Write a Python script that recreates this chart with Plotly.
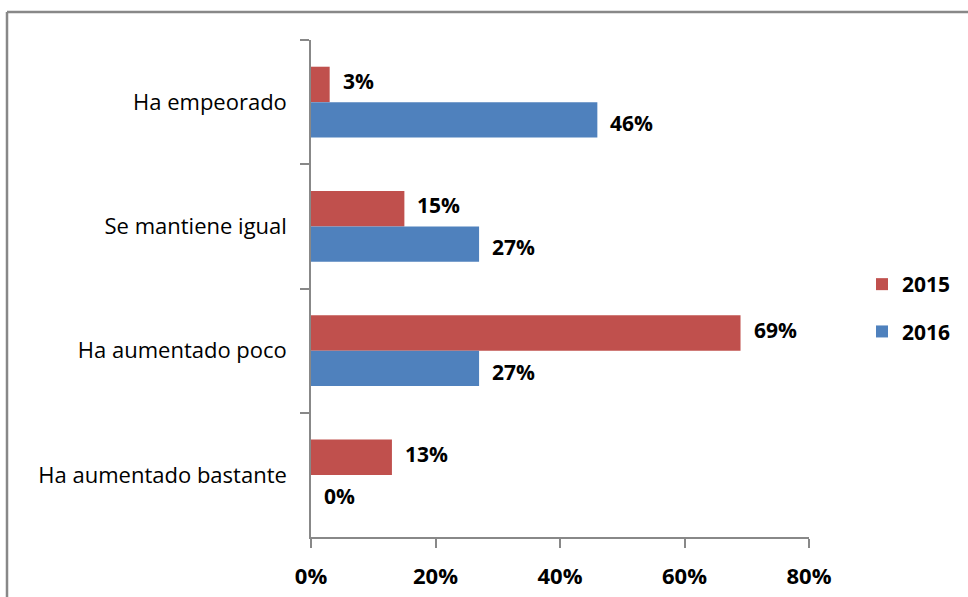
import plotly.graph_objects as go

categories = ["Ha empeorado", "Se mantiene igual", "Ha aumentado poco", "Ha aumentado bastante"]
values_2015 = [3, 15, 69, 13]
values_2016 = [46, 27, 27, 0]
series_names = ["2015", "2016"]
x_ticks = [0, 20, 40, 60, 80]
x_tick_labels = ["0%", "20%", "40%", "60%", "80%"]

RED = "#C0504D"
BLUE = "#4F81BD"
W, H = 968, 597
ML, MR, MT, MB = 311, 159, 40, 60
FONT = "Open Sans"

fig = go.Figure()
fig.add_trace(go.Bar(y=categories, x=values_2015, name=series_names[0], orientation="h",
                     legendgroup="a", marker=dict(color=RED, line=dict(width=0))))
fig.add_trace(go.Bar(y=categories, x=values_2016, name=series_names[1], orientation="h",
                     legendgroup="b", marker=dict(color=BLUE, line=dict(width=0))))

annotations = []
for vals, shift in ((values_2015, 21), (values_2016, -21)):
    for cat, v in zip(categories, vals):
        annotations.append(dict(x=v, y=cat, xref="x", yref="y", text=f"{v}%",
                                showarrow=False, xanchor="left", yanchor="middle",
                                xshift=11, yshift=shift,
                                font=dict(family=FONT, size=21, color="black", weight="bold")))

pw = W - ML - MR
ph = H - MT - MB
bx = (7 - ML) / pw
by = 1 + (MT - 12) / ph
fig.add_shape(type="line", xref="paper", yref="paper", x0=bx, x1=(W + 5 - ML) / pw, y0=by, y1=by,
              line=dict(color="#888888", width=2.5))
fig.add_shape(type="line", xref="paper", yref="paper", x0=bx, x1=bx, y0=by, y1=-(MB + 5) / ph,
              line=dict(color="#888888", width=2.5))

fig.update_layout(
    width=W, height=H,
    margin=dict(l=ML, r=MR, t=MT, b=MB, pad=0, autoexpand=False),
    paper_bgcolor="white", plot_bgcolor="white",
    barmode="group", bargap=0.43, bargroupgap=0,
    showlegend=True,
    legend=dict(x=(862 - ML) / pw, y=1 - (264 - MT) / ph, xanchor="left", yanchor="top",
                traceorder="grouped", font=dict(family=FONT, size=21, color="black", weight="bold"),
                tracegroupgap=17, itemwidth=30, bgcolor="rgba(0,0,0,0)"),
    annotations=annotations,
    xaxis=dict(range=[0, 80], tickvals=x_ticks, ticktext=x_tick_labels, showgrid=False,
               zeroline=False, showline=True, linecolor="#888888", linewidth=1.5,
               ticks="outside", ticklen=9, tickcolor="#888888", tickwidth=1.5,
               ticklabelstandoff=10, automargin=False,
               tickfont=dict(family=FONT, size=22, color="black", weight="bold"), fixedrange=True),
    yaxis=dict(autorange="reversed", showgrid=False, zeroline=False, showline=True,
               linecolor="#888888", linewidth=1.5, ticks="outside", ticklen=9, tickcolor="#888888",
               tickwidth=1.5, tickson="boundaries", ticklabelstandoff=18, automargin=False,
               tickfont=dict(family=FONT, size=22, color="black"), fixedrange=True),
)

fig.write_html("out.html", config={"displayModeBar": False},
               post_script="document.body.style.margin='0';document.body.style.overflow='hidden';")
